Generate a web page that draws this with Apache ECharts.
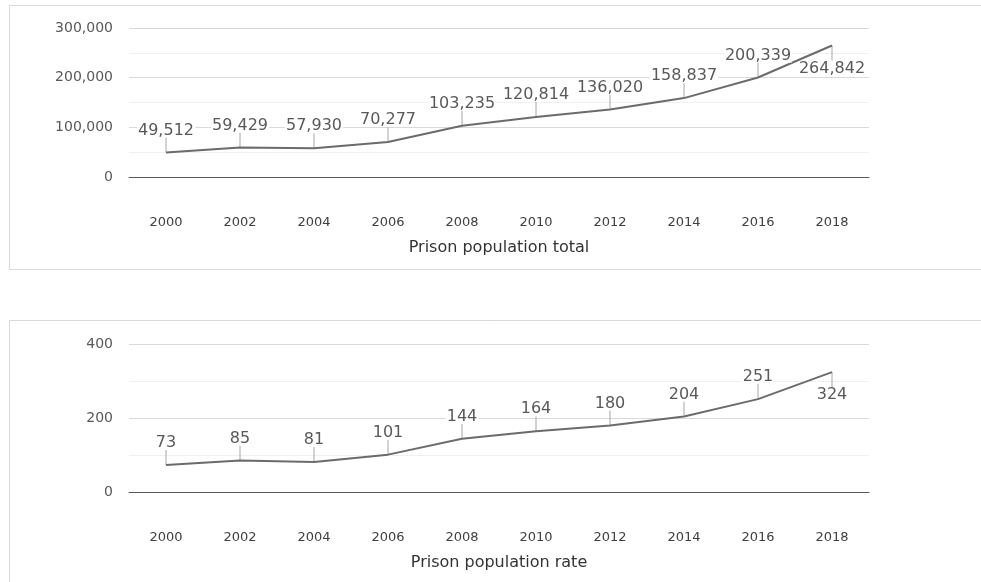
<!DOCTYPE html>
<html>
<head>
<meta charset="utf-8">
<title>Prison population</title>
<script src="https://cdn.jsdelivr.net/npm/echarts@6/dist/echarts.min.js"></script>
<style>
    html, body { margin: 0; padding: 0; background: #ffffff; }
    #chart { width: 981px; height: 582px; }
</style>
</head>
<body>
<div id="chart"></div>
<script>
// ============================================
// 数据
// ============================================
const years = ['2000', '2002', '2004', '2006', '2008', '2010', '2012', '2014', '2016', '2018'];
const prisonTotal = [49512, 59429, 57930, 70277, 103235, 120814, 136020, 158837, 200339, 264842];
const prisonRate = [73, 85, 81, 101, 144, 164, 180, 204, 251, 324];
// 标签方向: 1 在上方, -1 在下方
const labelSide = [1, 1, 1, 1, 1, 1, 1, 1, 1, -1];
const chartNames = ['Prison population total', 'Prison population rate'];

const FONT = 'DejaVu Sans, Verdana, sans-serif';
const LEADER = 15;

function formatNumber(num) {
    return num.toLocaleString('en-US');
}

// 折线 + 数据标签
function lineSeries(values, idx) {
    return {
        type: 'line',
        xAxisIndex: idx,
        yAxisIndex: idx,
        symbol: 'circle',
        symbolSize: 0.1,
        showSymbol: true,
        lineStyle: { color: '#6b6b6b', width: 2 },
        itemStyle: { color: '#6b6b6b' },
        z: 3,
        data: values.map((v, i) => ({
            value: v,
            label: labelSide[i] > 0
                ? { position: 'top' }
                : { position: 'bottom', distance: LEADER + 1, backgroundColor: 'transparent' }
        })),
        label: {
            show: true,
            distance: LEADER,
            color: '#595959',
            fontFamily: FONT,
            fontSize: 16,
            lineHeight: 14,
            backgroundColor: '#ffffff',
            padding: [0, 1, 0, 1],
            formatter: p => formatNumber(p.value)
        }
    };
}

// 引导线
function leaderSeries(values, idx) {
    return {
        type: 'custom',
        xAxisIndex: idx,
        yAxisIndex: idx,
        silent: true,
        z: 2,
        data: values.map((v, i) => [i, v, labelSide[i]]),
        renderItem: function (params, api) {
            const pt = api.coord([api.value(0), api.value(1)]);
            const side = api.value(2);
            return {
                type: 'line',
                shape: { x1: pt[0], y1: pt[1], x2: pt[0], y2: pt[1] - side * LEADER },
                style: { stroke: '#a6a6a6', lineWidth: 1 }
            };
        }
    };
}

function xAxisOf(idx) {
    return {
        type: 'category',
        gridIndex: idx,
        data: years,
        boundaryGap: true,
        axisTick: { show: false },
        axisLine: { show: true, lineStyle: { color: '#595959', width: 1 } },
        axisLabel: { color: '#404040', fontFamily: FONT, fontSize: 13, margin: 39 },
        name: chartNames[idx],
        nameLocation: 'middle',
        nameGap: 63,
        nameTextStyle: { color: '#333333', fontFamily: FONT, fontSize: 16 }
    };
}

function yAxisOf(idx, max, interval) {
    return {
        type: 'value',
        gridIndex: idx,
        min: 0,
        max: max,
        interval: interval,
        axisLine: { show: false },
        axisTick: { show: false },
        axisLabel: {
            color: '#595959', fontFamily: FONT, fontSize: 14, margin: 16,
            formatter: v => formatNumber(v)
        },
        splitLine: { show: true, lineStyle: { color: '#d9d9d9', width: 1 } },
        minorTick: { show: false, splitNumber: 2 },
        minorSplitLine: { show: true, lineStyle: { color: '#f0f0f0', width: 1 } }
    };
}

const chart = echarts.init(document.getElementById('chart'));
const option = {
    animation: false,
    backgroundColor: '#ffffff',
    graphic: [
        {
            type: 'rect', left: 7, top: 3, silent: true,
            shape: { width: 990, height: 264 },
            style: { fill: 'none', stroke: '#d9d9d9', lineWidth: 1 }
        },
        {
            type: 'rect', left: 7, top: 318, silent: true,
            shape: { width: 990, height: 280 },
            style: { fill: 'none', stroke: '#d9d9d9', lineWidth: 1 }
        }
    ],
    grid: [
        { left: 129, right: 112, top: 28, height: 149 },
        { left: 129, right: 112, top: 344, height: 148 }
    ],
    xAxis: [xAxisOf(0), xAxisOf(1)],
    yAxis: [yAxisOf(0, 300000, 100000), yAxisOf(1, 400, 200)],
    series: [
        leaderSeries(prisonTotal, 0),
        lineSeries(prisonTotal, 0),
        leaderSeries(prisonRate, 1),
        lineSeries(prisonRate, 1)
    ]
};
chart.setOption(option);
</script>
</body>
</html>
